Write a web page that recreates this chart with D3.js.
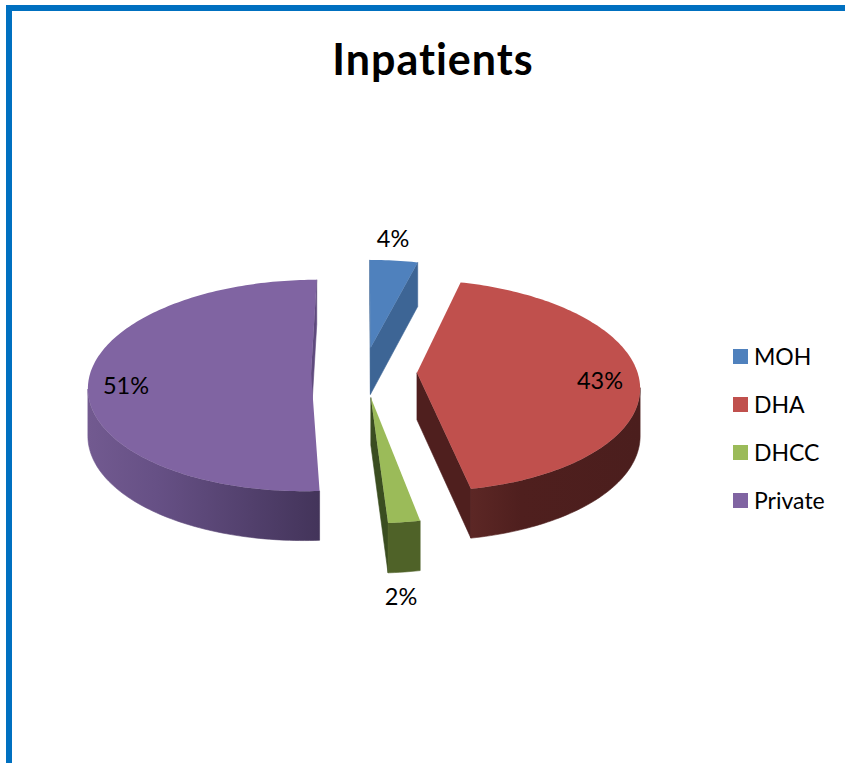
<!DOCTYPE html>
<meta charset="utf-8">
<style>
html, body { margin: 0; background: #fff; }
svg { display: block; }
text { font-family: Lato, "Open Sans", sans-serif; fill: #000; font-variant-ligatures: none; }
.title { font-size: 43px; font-weight: 700; text-anchor: middle; letter-spacing: 1px; }
.pct { font-size: 23.5px; text-anchor: middle; }
.legend text { font-size: 23px; }
</style>
<svg width="845" height="763"></svg>
<script src="https://d3js.org/d3.v7.min.js"></script>
<script>

var categories = ["MOH", "DHA", "DHCC", "Private"];
var values = [4, 43, 2, 51];
var percentLabels = ["4%", "43%", "2%", "51%"];

var topColors = ["#4f81bd", "#c0504d", "#9bbb59", "#8064a2"];
var edgeColors = ["#3d6595", "#4f1f1e", "#3a4d20", "#5f4a7e"];
// outer wall shading, left to right
var wallLeft = ["#3d6595", "#5c2725", "#4f6228", "#725a90"];
var wallMid = ["#3d6595", "#4f1f1e", "#4f6228", "#665085"];
var wallRight = ["#3d6595", "#4b1e1d", "#4f6228", "#43345a"];
var labelAt = [[393, 247], [600, 389], [401, 605], [126, 394]];

var svg = d3.select("svg");
var defs = svg.append("defs");

// frame runs off the right and bottom of the picture
svg.append("rect")
    .attr("x", 9).attr("y", 8)
    .attr("width", 900).attr("height", 900)
    .attr("fill", "none")
    .attr("stroke", "#0070c0")
    .attr("stroke-width", 6);

svg.append("text")
    .attr("class", "title")
    .attr("x", 433).attr("y", 74.5)
    .text("Inpatients");

// flat disc coordinates -> screen, with a bit of perspective
var cx = 364, cy = 372, rx = 220.5, ry = 104, persp = 0.12, depth = 47, explode = 0.24;

function project(X, Y, down) {
  var k = 1 / (1 - persp * Y);
  return [
    cx + rx * X * k,
    cy + ry * Y * k + (down ? depth * (1 + 0.05 * Y) : 0)
  ];
}

var pie = d3.pie().sort(null)(values);
var line = d3.line();
var g = svg.append("g");

pie.forEach(function(d, i) {
  var mid = (d.startAngle + d.endAngle) / 2,
      ox = explode * Math.sin(mid),
      oy = -explode * Math.cos(mid);

  var angles = d3.range(d.startAngle, d.endAngle, 0.02).concat([d.endAngle]);
  var rim = angles.map(function(a) { return [ox + Math.sin(a), oy - Math.cos(a)]; });
  var apex = [ox, oy];

  function quad(p, q) {
    return [
      project(p[0], p[1], false), project(q[0], q[1], false),
      project(q[0], q[1], true), project(p[0], p[1], true)
    ];
  }

  function edge(p, q) {
    var pts = quad(p, q);
    if (d3.polygonArea(pts) <= 0) return;  // faces away
    g.append("path")
        .attr("d", line(pts) + "Z")
        .attr("fill", edgeColors[i])
        .attr("stroke", edgeColors[i])
        .attr("stroke-width", 0.6);
  }

  edge(apex, rim[0]);
  edge(rim[rim.length - 1], apex);

  // the part of the outer wall that faces us, as one shape
  var front = d3.pairs(rim).filter(function(s) { return d3.polygonArea(quad(s[0], s[1])) > 0; });
  if (front.length) {
    var upper = front.map(function(s) { return project(s[0][0], s[0][1], false); })
        .concat([project(front[front.length - 1][1][0], front[front.length - 1][1][1], false)]);
    var lower = front.map(function(s) { return project(s[0][0], s[0][1], true); })
        .concat([project(front[front.length - 1][1][0], front[front.length - 1][1][1], true)]);
    var xs = d3.extent(upper, function(p) { return p[0]; });

    var grad = defs.append("linearGradient")
        .attr("id", "wall" + i)
        .attr("gradientUnits", "userSpaceOnUse")
        .attr("x1", xs[0]).attr("x2", xs[1])
        .attr("y1", 0).attr("y2", 0);
    grad.append("stop").attr("offset", 0).attr("stop-color", wallLeft[i]);
    grad.append("stop").attr("offset", 0.3).attr("stop-color", wallMid[i]);
    grad.append("stop").attr("offset", 1).attr("stop-color", wallRight[i]);

    g.append("path")
        .attr("d", line(upper.concat(lower.reverse())) + "Z")
        .attr("fill", "url(#wall" + i + ")")
        .attr("stroke", "url(#wall" + i + ")")
        .attr("stroke-width", 0.6);
  }

  var face = [apex].concat(rim).map(function(p) { return project(p[0], p[1], false); });
  g.append("path")
      .attr("d", line(face) + "Z")
      .attr("fill", topColors[i]);
});

svg.selectAll(".pct")
    .data(percentLabels)
  .enter().append("text")
    .attr("class", "pct")
    .attr("x", function(d, i) { return labelAt[i][0]; })
    .attr("y", function(d, i) { return labelAt[i][1]; })
    .text(function(d) { return d; });

var legendY = d3.scalePoint()
    .domain(categories)
    .range([357, 501]);

var legend = svg.append("g")
    .attr("class", "legend")
  .selectAll("g")
    .data(categories)
  .enter().append("g")
    .attr("transform", function(d) { return "translate(733," + legendY(d) + ")"; });

legend.append("rect")
    .attr("y", -8)
    .attr("width", 15).attr("height", 15)
    .attr("fill", function(d, i) { return topColors[i]; });

legend.append("text")
    .attr("x", 21).attr("y", 8)
    .text(function(d) { return d; });

</script>
